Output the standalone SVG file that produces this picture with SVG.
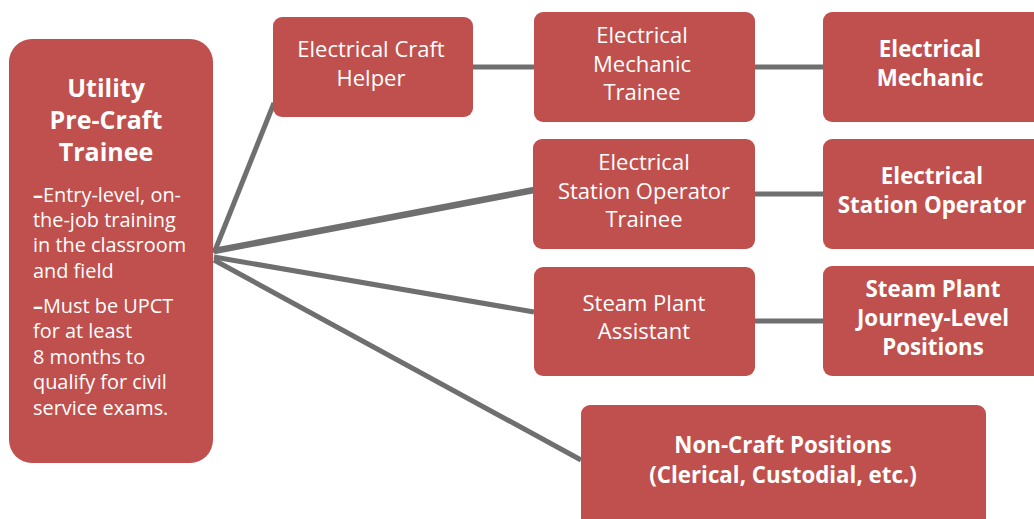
<svg xmlns="http://www.w3.org/2000/svg" width="1034" height="519" viewBox="0 0 1034 519">
<style>
.box{fill:#C0504D;}
.t{font-family:"Open Sans","Noto Sans","DejaVu Sans",sans-serif;fill:#FFFFFF;text-anchor:middle;font-size:22px;}
.b{font-weight:bold;font-size:22.3px;}
.title{font-size:25px;font-weight:bold;}
.body{font-family:"Open Sans","Noto Sans","DejaVu Sans",sans-serif;fill:#FFFFFF;font-size:19.9px;}
.d{font-weight:bold;}
.c{stroke:#6F6F6F;stroke-width:5;fill:none;}
</style>
<rect width="1034" height="519" fill="#FFFFFF"/>
<g id="connectors">
<line class="c" x1="214" y1="253" x2="274" y2="103"/>
<line class="c" x1="214" y1="251" x2="534" y2="190" style="stroke-width:6.5"/>
<line class="c" x1="214" y1="257" x2="534" y2="312"/>
<line class="c" x1="214" y1="260" x2="581" y2="460"/>
<line class="c" x1="472" y1="67" x2="534" y2="67"/>
<line class="c" x1="754" y1="67" x2="823" y2="67"/>
<line class="c" x1="754" y1="194" x2="823" y2="194"/>
<line class="c" x1="754" y1="321" x2="823" y2="321"/>
</g>
<g id="utility">
<rect class="box" x="9" y="39" width="204" height="424" rx="23"/>
<text class="t title" x="106" y="97">Utility</text>
<text class="t title" x="106" y="129">Pre-Craft</text>
<text class="t title" x="106" y="161">Trainee</text>
<text class="body" x="33" y="202"><tspan class="d">–</tspan>Entry-level, on-</text>
<text class="body" x="33" y="227">the-job training</text>
<text class="body" x="33" y="252">in the classroom</text>
<text class="body" x="33" y="278">and field</text>
<text class="body" x="33" y="313"><tspan class="d">–</tspan>Must be UPCT</text>
<text class="body" x="33" y="338">for at least</text>
<text class="body" x="33" y="364">8 months to</text>
<text class="body" x="33" y="389">qualify for civil</text>
<text class="body" x="33" y="415">service exams.</text>
</g>
<g id="craft-helper">
<rect class="box" x="273" y="17" width="200" height="100" rx="9"/>
<text class="t" x="371" y="57">Electrical Craft</text>
<text class="t" x="371" y="86">Helper</text>
</g>
<g id="em-trainee">
<rect class="box" x="534" y="12" width="221" height="110" rx="9"/>
<text class="t" x="642" y="43">Electrical</text>
<text class="t" x="642" y="72">Mechanic</text>
<text class="t" x="642" y="100">Trainee</text>
</g>
<g id="em">
<rect class="box" x="823" y="12" width="230" height="110" rx="9"/>
<text class="t b" x="930" y="57">Electrical</text>
<text class="t b" x="930" y="86">Mechanic</text>
</g>
<g id="so-trainee">
<rect class="box" x="533" y="139" width="222" height="110" rx="9"/>
<text class="t" x="644" y="170">Electrical</text>
<text class="t" x="644" y="199">Station Operator</text>
<text class="t" x="644" y="227">Trainee</text>
</g>
<g id="so">
<rect class="box" x="823" y="139" width="230" height="110" rx="9"/>
<text class="t b" x="932" y="184">Electrical</text>
<text class="t b" x="932" y="213">Station Operator</text>
</g>
<g id="sp-assistant">
<rect class="box" x="534" y="267" width="221" height="109" rx="9"/>
<text class="t" x="644" y="311">Steam Plant</text>
<text class="t" x="644" y="339">Assistant</text>
</g>
<g id="sp-journey">
<rect class="box" x="823" y="266" width="230" height="110" rx="9"/>
<text class="t b" x="933" y="297">Steam Plant</text>
<text class="t b" x="933" y="326">Journey-Level</text>
<text class="t b" x="933" y="355">Positions</text>
</g>
<g id="non-craft">
<rect class="box" x="581" y="405" width="405" height="130" rx="9"/>
<text class="t b" x="783" y="453">Non-Craft Positions</text>
<text class="t b" x="783" y="483">(Clerical, Custodial, etc.)</text>
</g>
</svg>
